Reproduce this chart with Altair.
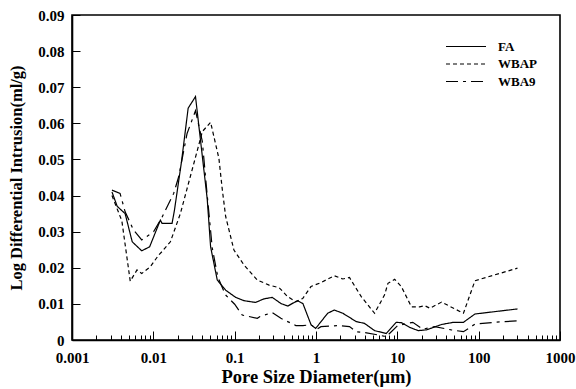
import altair as alt
import pandas as pd

# ---- data ----
series_names = ["FA", "WBAP", "WBA9"]

fa_x = [0.0031, 0.0036, 0.0045, 0.0055, 0.0072, 0.009, 0.0122, 0.0128, 0.017, 0.0182,
        0.0222, 0.0268, 0.033, 0.046, 0.0506, 0.0611, 0.0775, 0.103, 0.130, 0.18,
        0.23, 0.29, 0.37, 0.45, 0.59, 0.69, 0.87, 0.99, 1.39, 1.68,
        2.14, 3.12, 3.95, 5.25, 7.3, 9.7, 11.2, 14.2, 18, 22.8,
        35, 49, 65, 90, 300]
fa_y = [0.041, 0.037, 0.035, 0.0272, 0.0247, 0.0258, 0.0332, 0.0323, 0.0323, 0.036,
        0.0494, 0.0642, 0.0674, 0.039, 0.0258, 0.0166, 0.0138, 0.0118, 0.0109, 0.0104,
        0.0114, 0.0118, 0.0101, 0.0094, 0.0109, 0.0101, 0.0042, 0.0032, 0.0074, 0.0083,
        0.0074, 0.0051, 0.0046, 0.0026, 0.0018, 0.0049, 0.0048, 0.0035, 0.0026, 0.0028,
        0.0043, 0.0049, 0.0049, 0.0072, 0.0086]

wbap_x = [0.0031, 0.0041, 0.0052, 0.0063, 0.0072, 0.0092, 0.0116, 0.0128, 0.0162, 0.0215,
          0.0362, 0.040, 0.0506, 0.064, 0.0705, 0.0775, 0.098, 0.130, 0.19, 0.265,
          0.352, 0.448, 0.566, 0.686, 0.867, 1.15, 1.68, 2.14, 2.58, 3.6,
          5.25, 6.97, 7.67, 9.27, 11.2, 14.9, 18.8, 21.7, 25.1, 35,
          65, 90, 300]
wbap_y = [0.040, 0.033, 0.0163, 0.0194, 0.0184, 0.0203, 0.0235, 0.0245, 0.0272, 0.035,
          0.054, 0.0577, 0.0603, 0.0503, 0.0416, 0.0342, 0.0249, 0.0208, 0.0166, 0.0152,
          0.0145, 0.012, 0.0106, 0.0115, 0.0148, 0.0159, 0.0178, 0.0169, 0.0173, 0.012,
          0.0074, 0.0125, 0.0157, 0.0168, 0.0148, 0.0092, 0.0092, 0.0095, 0.0088, 0.0105,
          0.0074, 0.0164, 0.0199]

wba9_x = [0.0031, 0.0039, 0.0045, 0.0057, 0.0072, 0.0101, 0.0128, 0.0178, 0.0205, 0.026,
          0.033, 0.040, 0.046, 0.053, 0.062, 0.077, 0.10, 0.124, 0.19, 0.205,
          0.29, 0.37, 0.566, 0.69, 0.87, 1.03, 1.15, 1.85, 2.58, 3.12,
          3.95, 5.8, 7.3, 10.1, 15.5, 20.6, 28.7, 46, 65, 90,
          155, 300]
wba9_y = [0.0415, 0.0406, 0.0355, 0.0305, 0.0277, 0.030, 0.034, 0.0406, 0.0452, 0.0572,
          0.0635, 0.055, 0.040, 0.0255, 0.0175, 0.0125, 0.0099, 0.0069, 0.006, 0.0065,
          0.0076, 0.006, 0.004, 0.004, 0.0042, 0.003, 0.0037, 0.004, 0.0037, 0.0023,
          0.0021, 0.0014, 0.0009, 0.004, 0.0049, 0.003, 0.0037, 0.0028, 0.0023, 0.0044,
          0.0049, 0.0053]

x_major = [0.001, 0.01, 0.1, 1, 10, 100, 1000]
x_minor = [k * 10.0 ** e for e in range(-3, 3) for k in range(2, 10)]
y_ticks = [0, 0.01, 0.02, 0.03, 0.04, 0.05, 0.06, 0.07, 0.08, 0.09]

rows = []
for name, xs, ys in [("FA", fa_x, fa_y), ("WBAP", wbap_x, wbap_y), ("WBA9", wba9_x, wba9_y)]:
    for i, (xv, yv) in enumerate(zip(xs, ys)):
        rows.append({"series": name, "d": xv, "v": yv, "i": i})
df = pd.DataFrame(rows)

FONT = "Liberation Serif, Times New Roman, Times, serif"
W, H = 488, 325

xscale = alt.Scale(type="log", domain=[0.001, 1000])
yscale = alt.Scale(domain=[0, 0.09])

lines = alt.Chart(df).mark_line(color="black", strokeWidth=1.2, strokeCap="butt").encode(
    x=alt.X("d:Q", scale=xscale,
            axis=alt.Axis(values=x_major, format="~g", title="Pore Size Diameter(μm)",
                          ticks=False, grid=False, labelPadding=10, titlePadding=2,
                          labelFontSize=15, titleFontSize=18.5, labelFlush=False)),
    y=alt.Y("v:Q", scale=yscale,
            axis=alt.Axis(values=y_ticks, format="~g", title="Log Differential Intrusion(ml/g)",
                          ticks=False, grid=False, labelPadding=8, titlePadding=13,
                          labelFontSize=15, titleFontSize=16.5)),
    strokeDash=alt.StrokeDash("series:N",
                              scale=alt.Scale(domain=series_names,
                                              range=[[1, 0], [4, 3], [12, 5, 3, 5]]),
                              legend=alt.Legend(title=None, orient="none", legendX=373, legendY=24,
                                                symbolType="stroke", symbolSize=1600,
                                                symbolStrokeWidth=1.2, symbolStrokeColor="black",
                                                clipHeight=15, rowPadding=2.5,
                                                labelOffset=11, labelFontSize=13,
                                                labelFont=FONT, labelFontWeight="bold",
                                                labelColor="black", padding=0)),
    order="i:Q",
)

tick_layer = alt.Chart(df).mark_line(opacity=0).encode(
    x=alt.X("d:Q", scale=xscale,
            axis=alt.Axis(orient="top", offset=-H, values=x_major + x_minor, labels=False,
                          domain=False, grid=False, title=None, tickColor="black", tickWidth=1,
                          tickSize={"condition": {"test": "abs(log(datum.value)/LN10 - round(log(datum.value)/LN10)) < 0.001",
                                                  "value": 9},
                                    "value": 5})),
    y=alt.Y("v:Q", scale=yscale,
            axis=alt.Axis(orient="right", offset=-W, values=y_ticks, labels=False,
                          domain=False, grid=False, title=None, tickColor="black",
                          tickWidth=1, tickSize=8)),
)

chart = alt.layer(lines, tick_layer).resolve_axis(x="independent", y="independent").properties(
    width=W, height=H,
    autosize=alt.AutoSizeParams(type="none"),
    padding={"left": 72, "top": 15, "right": 16, "bottom": 49},
    background="white",
).configure_view(stroke="black", strokeWidth=1.6).configure_axis(
    labelFont=FONT, titleFont=FONT, labelFontWeight="bold", titleFontWeight="bold",
    labelColor="black", titleColor="black", domainColor="black", domainWidth=1.6,
)

chart.save("out.html", embed_options={"renderer": "svg", "actions": False})
